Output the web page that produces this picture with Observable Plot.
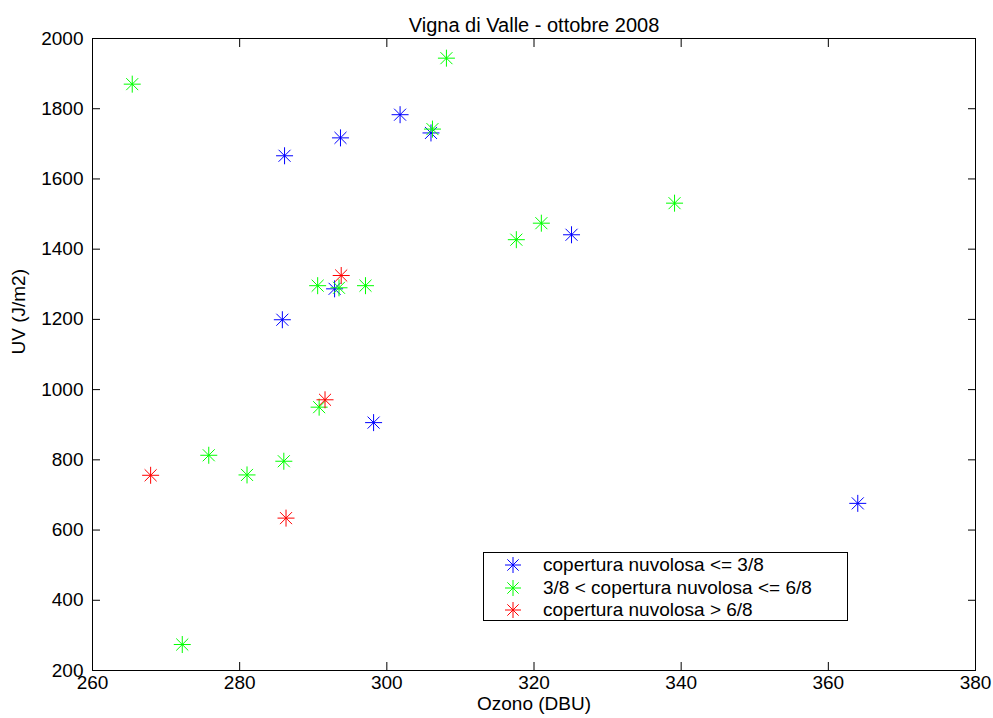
<!DOCTYPE html>
<html>
<head>
<meta charset="utf-8">
<script src="https://cdn.jsdelivr.net/npm/d3@7"></script>
<script src="https://cdn.jsdelivr.net/npm/@observablehq/plot@0.6"></script>
<style>
  html, body { margin: 0; padding: 0; background: #fff; }
  #wrap { position: relative; width: 993px; height: 718px; font-family: "Liberation Sans", Arial, sans-serif; }
  #legend { position: absolute; left: 483px; top: 552px; width: 363px; height: 67px; border: 1px solid #000; background: #fff; font-size: 19px; }
  .row { position: absolute; left: 0; height: 22px; display: flex; align-items: center; }
  .row svg { position: absolute; left: 20px; }
  .row span { position: absolute; left: 59px; white-space: nowrap; line-height: 22px; }
</style>
</head>
<body>
<div id="wrap"></div>
<script>
// ---- data ----
const title = "Vigna di Valle - ottobre 2008";
const xLabel = "Ozono (DBU)";
const yLabel = "UV (J/m2)";
const xTicks = [260, 280, 300, 320, 340, 360, 380];
const yTicks = [200, 400, 600, 800, 1000, 1200, 1400, 1600, 1800, 2000];

const seriesNames = [
  "copertura nuvolosa <= 3/8",
  "3/8 < copertura nuvolosa <= 6/8",
  "copertura nuvolosa > 6/8"
];
const seriesColors = ["#0000ff", "#00ff00", "#ff0000"];

const blueX = [301.8, 306.0, 293.7, 286.1, 292.9, 285.8, 325.1, 298.2, 364.0];
const blueY = [1783, 1731, 1717, 1666, 1287, 1199, 1441, 906, 676];

const greenX = [265.4, 308.1, 306.2, 290.6, 293.5, 297.1, 317.6, 321.0, 339.1, 290.8, 275.8, 281.0, 286.0, 272.2];
const greenY = [1870, 1944, 1742, 1296, 1290, 1296, 1427, 1474, 1531, 950, 813, 757, 796, 274];

const redX = [293.8, 291.6, 267.9, 286.3];
const redY = [1325, 971, 756, 634];

// ---- build table ----
const groups = [[blueX, blueY], [greenX, greenY], [redX, redY]];
const data = [];
groups.forEach(([xs, ys], g) => xs.forEach((x, i) => data.push({ozono: x, uv: ys[i], serie: seriesNames[g]})));

// MATLAB-like '*' marker: plus + cross
const star8 = {
  draw(ctx, size) {
    const r = Math.sqrt(size / Math.PI);
    const d = r * Math.SQRT1_2;
    ctx.moveTo(-r, 0); ctx.lineTo(r, 0);
    ctx.moveTo(0, -r); ctx.lineTo(0, r);
    ctx.moveTo(-d, -d); ctx.lineTo(d, d);
    ctx.moveTo(-d, d); ctx.lineTo(d, -d);
  }
};

const font = "Liberation Sans, Arial, sans-serif";
const plain = d => String(d);

const chart = Plot.plot({
  width: 993,
  height: 718,
  marginLeft: 92,
  marginRight: 18,
  marginTop: 38,
  marginBottom: 48,
  style: {fontFamily: font, fontSize: "19px", background: "#fff", color: "#000"},
  x: {domain: [260, 380]},
  y: {domain: [200, 2000]},
  color: {domain: seriesNames, range: seriesColors},
  marks: [
    Plot.axisX({anchor: "bottom", ticks: xTicks, tickSize: -8, tickPadding: 13, tickFormat: plain, label: null, fontSize: 19}),
    Plot.axisX({anchor: "top", ticks: xTicks, tickSize: -8, tickFormat: () => "", label: null}),
    Plot.axisY({anchor: "left", ticks: yTicks, tickSize: -8, tickPadding: 17, tickFormat: plain, label: null, fontSize: 19}),
    Plot.axisY({anchor: "right", ticks: yTicks, tickSize: -8, tickFormat: () => "", label: null}),
    Plot.frame({stroke: "#000", strokeWidth: 1}),
    Plot.dot(data, {x: "ozono", y: "uv", stroke: "serie", symbol: star8, r: 8.5, strokeWidth: 1}),
    Plot.text([title], {frameAnchor: "top", dy: -21, fontSize: 20, fill: "#000"}),
    Plot.text([xLabel], {frameAnchor: "bottom", dy: 39, fontSize: 19, fill: "#000"}),
    Plot.text([yLabel], {frameAnchor: "left", dx: -74, rotate: -90, fontSize: 19, fill: "#000"})
  ]
});

const wrap = document.getElementById("wrap");
wrap.appendChild(chart);

// legend inside the axes (as in the reference)
const legend = document.createElement("div");
legend.id = "legend";
seriesNames.forEach((name, i) => {
  const row = document.createElement("div");
  row.className = "row";
  row.style.top = (1 + i * 22.5) + "px";
  const r = 8, d = r * Math.SQRT1_2;
  row.innerHTML = `<svg width="18" height="18" viewBox="-9 -9 18 18"><path d="M${-r},0L${r},0M0,${-r}L0,${r}M${-d},${-d}L${d},${d}M${-d},${d}L${d},${-d}" stroke="${seriesColors[i]}" stroke-width="1" fill="none"/></svg><span>${name.replace(/</g, "&lt;").replace(/>/g, "&gt;")}</span>`;
  legend.appendChild(row);
});
wrap.appendChild(legend);
</script>
</body>
</html>
